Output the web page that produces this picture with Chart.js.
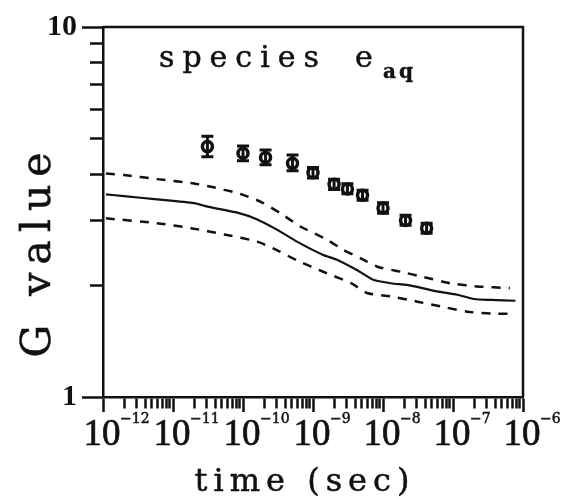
<!DOCTYPE html>
<html lang="en">
<head>
<meta charset="UTF-8">
<title>G value vs time - species e(aq)</title>
<script src="https://cdn.jsdelivr.net/npm/chart.js"></script>
<style>
  html, body { margin: 0; padding: 0; background: #fff; }
</style>
</head>
<body>
<canvas id="gChart" width="563" height="499"></canvas>
<script>
// measured G values with error bars
var pointTime = [3.1e-11, 1.0e-10, 2.1e-10, 5.1e-10, 1.0e-9, 2.0e-9, 3.1e-9, 5.1e-9, 1.0e-8, 2.1e-8, 4.2e-8];
var pointG    = [4.75, 4.56, 4.44, 4.28, 4.04, 3.76, 3.65, 3.51, 3.24, 3.00, 2.86];
var pointLow  = [4.46, 4.35, 4.24, 4.09, 3.91, 3.64, 3.54, 3.40, 3.14, 2.91, 2.77];
var pointHigh = [5.07, 4.77, 4.65, 4.51, 4.17, 3.88, 3.77, 3.62, 3.35, 3.10, 2.95];

// calculated curve (solid)
var calcTime = [1.1e-12, 2.0e-12, 5.9e-12, 2.0e-11, 3.1e-11, 8.3e-11, 1.6e-10, 3.1e-10, 5.9e-10, 1.4e-9,
                2.2e-9, 4.3e-9, 7.4e-9, 1.3e-8, 2.5e-8, 5.9e-8, 1.15e-7, 2.0e-7, 3.5e-7, 7.8e-7];
var calcG    = [3.53, 3.49, 3.42, 3.34, 3.27, 3.15, 3.02, 2.83, 2.63, 2.42,
                2.35, 2.20, 2.07, 2.03, 2.00, 1.93, 1.89, 1.84, 1.83, 1.82];

// upper and lower bounds (dashed)
var upperTime = [1.1e-12, 2.0e-12, 5.9e-12, 1.8e-11, 3.5e-11, 9.1e-11, 1.8e-10, 3.4e-10, 6.6e-10, 1.6e-9,
                 2.7e-9, 4.8e-9, 8.3e-9, 1.8e-8, 3.8e-8, 9.1e-8, 2.2e-7, 6.5e-7];
var upperG    = [4.02, 3.98, 3.88, 3.79, 3.70, 3.54, 3.37, 3.14, 2.89, 2.66,
                 2.50, 2.37, 2.25, 2.18, 2.11, 2.03, 1.99, 1.97];
var lowerTime = [1.1e-12, 5.9e-12, 1.8e-11, 5.4e-11, 1.6e-10, 3.1e-10, 5.9e-10, 1.4e-9, 3.5e-9, 5.9e-9,
                 1.3e-8, 3.1e-8, 7.4e-8, 1.6e-7, 3.5e-7, 7.8e-7];
var lowerG    = [3.04, 2.95, 2.86, 2.75, 2.63, 2.49, 2.34, 2.18, 2.03, 1.91,
                 1.87, 1.81, 1.75, 1.70, 1.68, 1.68];

// axes
var xTickExponents = [-12, -11, -10, -9, -8, -7, -6];
var yTickLabels = [1, 10];
var xTitle = 'time (sec)';
var yTitle = 'G value';
var speciesLabel = 'species';

var INK = '#111';

function pairs(xs, ys) {
    return xs.map(function (x, i) { return { x: x, y: ys[i] }; });
}

function isDecade(v) {
    var l = Math.log10(v);
    return Math.abs(l - Math.round(l)) < 1e-9;
}

// 1..9 in every decade between the first and last exponent
var xTicks = [];
for (var e = xTickExponents[0]; e < xTickExponents[xTickExponents.length - 1]; e++) {
    for (var m = 1; m < 10; m++) xTicks.push(m * Math.pow(10, e));
}
xTicks.push(Math.pow(10, xTickExponents[xTickExponents.length - 1]));

var yTicks = [];
for (var k = 1; k <= 10; k++) yTicks.push(k);

// fill + thin stroke, the scanned original is quite heavy
function heavyText(ctx, txt, x, y, w) {
    ctx.fillText(txt, x, y);
    ctx.lineWidth = w;
    ctx.strokeText(txt, x, y);
}

// error bars, drawn over the markers so the first one reads as a Φ
var errorBars = {
    id: 'errorBars',
    afterDatasetsDraw: function (chart) {
        var ctx = chart.ctx, xs = chart.scales.x, ys = chart.scales.y;
        ctx.save();
        ctx.strokeStyle = INK;
        ctx.lineWidth = 3;
        for (var i = 0; i < pointTime.length; i++) {
            var px = xs.getPixelForValue(pointTime[i]);
            var top = ys.getPixelForValue(pointHigh[i]);
            var bot = ys.getPixelForValue(pointLow[i]);
            ctx.beginPath();
            ctx.moveTo(px, top); ctx.lineTo(px, bot);
            ctx.moveTo(px - 6, top); ctx.lineTo(px + 6, top);
            ctx.moveTo(px - 6, bot); ctx.lineTo(px + 6, bot);
            ctx.stroke();
        }
        ctx.restore();
    }
};

// closes the box and writes the labels with the old typewriter spacing
var decorations = {
    id: 'decorations',
    afterDraw: function (chart) {
        var ctx = chart.ctx, a = chart.chartArea, xs = chart.scales.x;
        ctx.save();
        ctx.strokeStyle = INK;
        ctx.lineWidth = 2.5;
        ctx.beginPath();
        ctx.moveTo(a.left, a.top); ctx.lineTo(a.right, a.top); ctx.lineTo(a.right, a.bottom);
        ctx.stroke();

        ctx.fillStyle = INK;
        ctx.textBaseline = 'alphabetic';

        // x tick labels 10^n
        xTickExponents.forEach(function (n) {
            var px = xs.getPixelForValue(Math.pow(10, n));
            ctx.letterSpacing = '0px';
            ctx.font = '37px "Liberation Serif"';
            ctx.textAlign = 'center';
            heavyText(ctx, '10', px - 1, 445, 0.7);
            ctx.font = '14px "DejaVu Serif"';
            ctx.textAlign = 'left';
            heavyText(ctx, '\u2212' + Math.abs(n), px + 17, 423, 0.5);
        });

        // x title
        ctx.letterSpacing = '6px';
        ctx.font = '32px "DejaVu Serif"';
        ctx.textAlign = 'center';
        heavyText(ctx, xTitle, 305, 491, 0.5);

        // y title
        ctx.save();
        ctx.translate(50, 251);
        ctx.rotate(-Math.PI / 2);
        ctx.letterSpacing = '8px';
        ctx.font = '41px "DejaVu Serif"';
        ctx.textAlign = 'center';
        heavyText(ctx, yTitle, 0, 0, 0.5);
        ctx.restore();

        // species e_aq
        ctx.textAlign = 'left';
        ctx.letterSpacing = '8px';
        ctx.font = '30px "DejaVu Serif"';
        heavyText(ctx, speciesLabel, 159, 67, 0.5);
        ctx.letterSpacing = '0px';
        heavyText(ctx, 'e', 355, 67, 0.5);
        ctx.letterSpacing = '3px';
        ctx.font = 'bold 20px "DejaVu Serif"';
        heavyText(ctx, 'aq', 383, 78, 0.4);
        ctx.restore();
    }
};

var ctx = document.getElementById('gChart').getContext('2d');
var gChart = new Chart(ctx, {
    data: {
        datasets: [{
            type: 'scatter',
            label: 'measured',
            data: pairs(pointTime, pointG),
            pointStyle: 'circle',
            pointRadius: 5,
            borderWidth: 3.5,
            borderColor: INK,
            backgroundColor: '#fff'
        }, {
            type: 'line',
            label: 'calculated',
            data: pairs(calcTime, calcG),
            borderColor: INK,
            borderWidth: 2.2,
            pointRadius: 0,
            tension: 0.2,
            fill: false
        }, {
            type: 'line',
            label: 'upper',
            data: pairs(upperTime, upperG),
            borderColor: INK,
            borderWidth: 2.5,
            borderDash: [9, 8],
            pointRadius: 0,
            tension: 0.2,
            fill: false
        }, {
            type: 'line',
            label: 'lower',
            data: pairs(lowerTime, lowerG),
            borderColor: INK,
            borderWidth: 2.5,
            borderDash: [9, 8],
            pointRadius: 0,
            tension: 0.2,
            fill: false
        }]
    },
    options: {
        responsive: false,
        animation: false,
        layout: { padding: { top: 27, right: 40, left: 0, bottom: 0 } },
        plugins: {
            legend: { display: false },
            tooltip: { enabled: false },
            title: { display: false }
        },
        scales: {
            x: {
                type: 'logarithmic',
                position: 'bottom',
                min: 1e-12,
                max: 1e-6,
                afterBuildTicks: function (scale) {
                    scale.ticks = xTicks.map(function (v) { return { value: v }; });
                },
                afterFit: function (scale) { scale.height = 102; },
                border: { display: true, color: INK, width: 2.5 },
                grid: {
                    display: true,
                    drawOnChartArea: false,
                    drawTicks: true,
                    tickLength: 15,
                    tickWidth: 2.5,
                    tickColor: INK,
                    tickBorderDash: function (c) { return isDecade(c.tick.value) ? [] : [10, 100]; }
                },
                ticks: { display: false, autoSkip: false }
            },
            y: {
                type: 'logarithmic',
                position: 'left',
                min: 1,
                max: 10,
                afterBuildTicks: function (scale) {
                    scale.ticks = yTicks.map(function (v) { return { value: v }; });
                },
                afterFit: function (scale) { scale.width = 103; },
                border: { display: true, color: INK, width: 2.5 },
                grid: {
                    display: true,
                    drawOnChartArea: false,
                    drawTicks: true,
                    tickLength: 21,
                    tickWidth: 2.5,
                    tickColor: INK,
                    tickBorderDash: function (c) { return isDecade(c.tick.value) ? [] : [0, 8, 13, 100]; }
                },
                ticks: {
                    autoSkip: false,
                    padding: 5,
                    color: INK,
                    font: { family: '"Liberation Serif"', size: 30, weight: 'bold' },
                    callback: function (v) { return yTickLabels.indexOf(v) >= 0 ? String(v) : ''; }
                }
            }
        }
    },
    plugins: [errorBars, decorations]
});
</script>
</body>
</html>
